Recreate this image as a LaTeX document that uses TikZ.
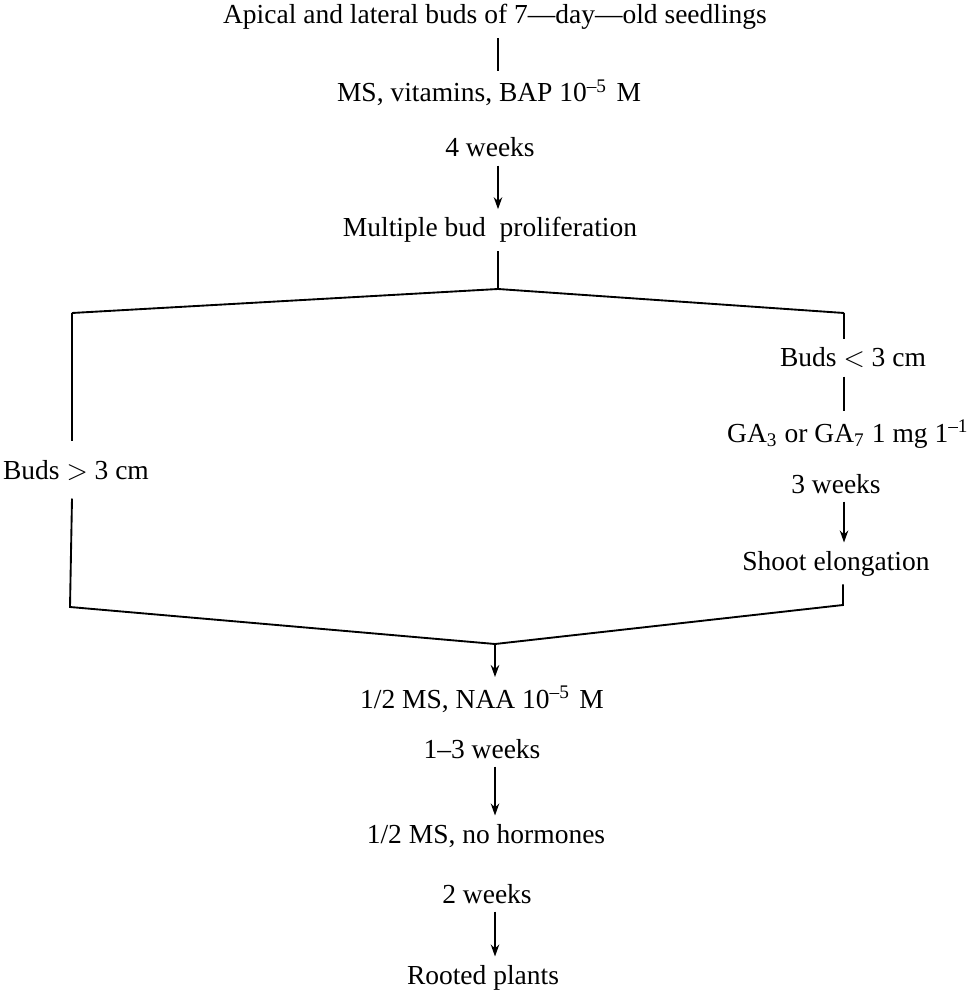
\documentclass[tikz,border=0pt]{standalone}
\usepackage{fontspec}
\setmainfont{Liberation Serif}
\usepackage{tikz}
\usetikzlibrary{positioning,arrows.meta}

\begin{document}
\begin{tikzpicture}[x=0.4pt,y=-0.4pt,line width=0.75pt,>={Stealth[length=4.8pt,width=3.4pt]}]

  \tikzstyle{lbl}=[anchor=base,inner sep=3pt,font=\fontsize{11pt}{13pt}\selectfont]

  \useasboundingbox (0,0) rectangle (977,991);

  % main column
  \node[lbl] (seed) at (495,24) {Apical and lateral buds of 7---day---old seedlings};
  \node[lbl] (bap) at (489,102) {MS, vitamins, BAP 10\textsuperscript{--5}\,\,M};
  \node[lbl] (w4) at (490,157) {4 weeks};
  \node[lbl] (multi) at (490,237) {Multiple bud\ \ proliferation};

  % branches
  \node[lbl,inner ysep=7pt] (big) at (76,479) {Buds $>$ 3 cm};
  \node[lbl] (small) at (853,367) {Buds $<$ 3 cm};
  \node[lbl] (ga) at (848,442) {GA\textsubscript{3} or GA\textsubscript{7} 1 mg 1\textsuperscript{--1}};
  \node[lbl] (w3) at (836,493) {3 weeks};
  \node[lbl] (shoot) at (836,570) {Shoot elongation};

  % rooting
  \node[lbl] (naa) at (482,708) {1/2 MS, NAA 10\textsuperscript{--5}\,\,M};
  \node[lbl] (w13) at (482,758) {1--3 weeks};
  \node[lbl] (nohorm) at (486,843) {1/2 MS, no hormones};
  \node[lbl] (w2) at (487,903) {2 weeks};
  \node[lbl] (rooted) at (483,984) {Rooted plants};

  \coordinate (topfork) at (498,289);
  \coordinate (tl) at (72,313);
  \coordinate (tr) at (844,313);
  \coordinate (bl) at (70,607);
  \coordinate (br) at (843,605);
  \coordinate (botfork) at (495,644);

  \draw (seed.south -| topfork) -- (bap.north -| topfork);
  \draw[->] (w4.south -| topfork) -- (multi.north -| topfork);
  \draw (multi.south -| topfork) -- (topfork);
  \draw (tl) -- (topfork) -- (tr);

  \draw (tl) -- (big.north -| tl);
  \draw (big.south -| tl) -- (bl) -- (botfork) -- (br) -- (shoot.south -| br);

  \draw (tr) -- (small.north -| tr);
  \draw (small.south -| tr) -- (ga.north -| tr);
  \draw[->] (w3.south -| tr) -- (shoot.north -| tr);

  \draw[->] (botfork) -- (naa.north -| botfork);
  \draw[->] (w13.south -| botfork) -- (nohorm.north -| botfork);
  \draw[->] (w2.south -| botfork) -- (rooted.north -| botfork);

\end{tikzpicture}
\end{document}
